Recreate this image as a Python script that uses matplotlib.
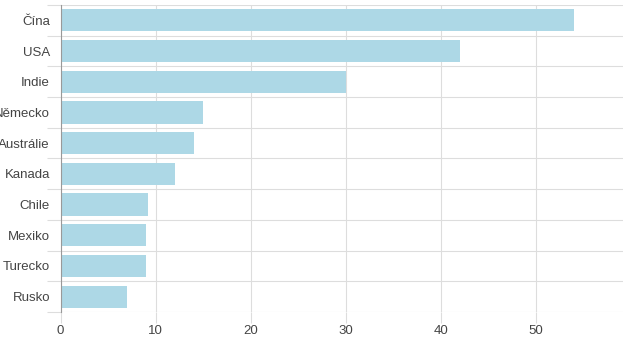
import matplotlib.pyplot as plt
import numpy as np

plt.rcParams['font.family'] = ['Liberation Sans', 'DejaVu Sans']

#----------------data
countries = ["Čína", "USA", "Indie", "Německo", "Austrálie", "Kanada", "Chile", "Mexiko", "Turecko", "Rusko"]
values = [54, 42, 30, 15, 14, 12, 9.2, 9, 9, 7]
x_ticks = [0, 10, 20, 30, 40, 50]

#----------------figure
fig = plt.figure(figsize=(6.24, 3.51), dpi=100)
ax = fig.add_axes([60.5/624, 1 - 312/351, (623 - 60.5)/624, (312 - 5)/351])

pos = np.arange(len(countries))
ax.barh(pos, values, height=0.72, color="#add8e6", zorder=2)

ax.set_ylim(len(countries) - 0.5, -0.5)
ax.set_xlim(0, 59.2)

ax.set_yticks(pos)
ax.set_yticklabels(countries)
ax.set_yticks(np.arange(-0.5, len(countries)), minor=True)
ax.set_xticks(x_ticks)

grid_col = "#dddddd"
ax.grid(axis="y", which="minor", color=grid_col, linewidth=0.8, zorder=0)
ax.grid(axis="x", which="major", color=grid_col, linewidth=0.8, zorder=0)

ax.tick_params(axis="y", which="major", length=0, pad=7.5, labelsize=9.5, labelcolor="#444444")
ax.tick_params(axis="y", which="minor", length=10, color=grid_col, width=0.8)
ax.tick_params(axis="x", which="major", length=8, color=grid_col, width=0.8, labelsize=9.5, labelcolor="#444444", pad=1.5)

for s in ["top", "right", "bottom"]:
    ax.spines[s].set_visible(False)
ax.spines["left"].set_color("#999999")
ax.spines["left"].set_linewidth(0.8)

fig.savefig("out.png", dpi=100)
